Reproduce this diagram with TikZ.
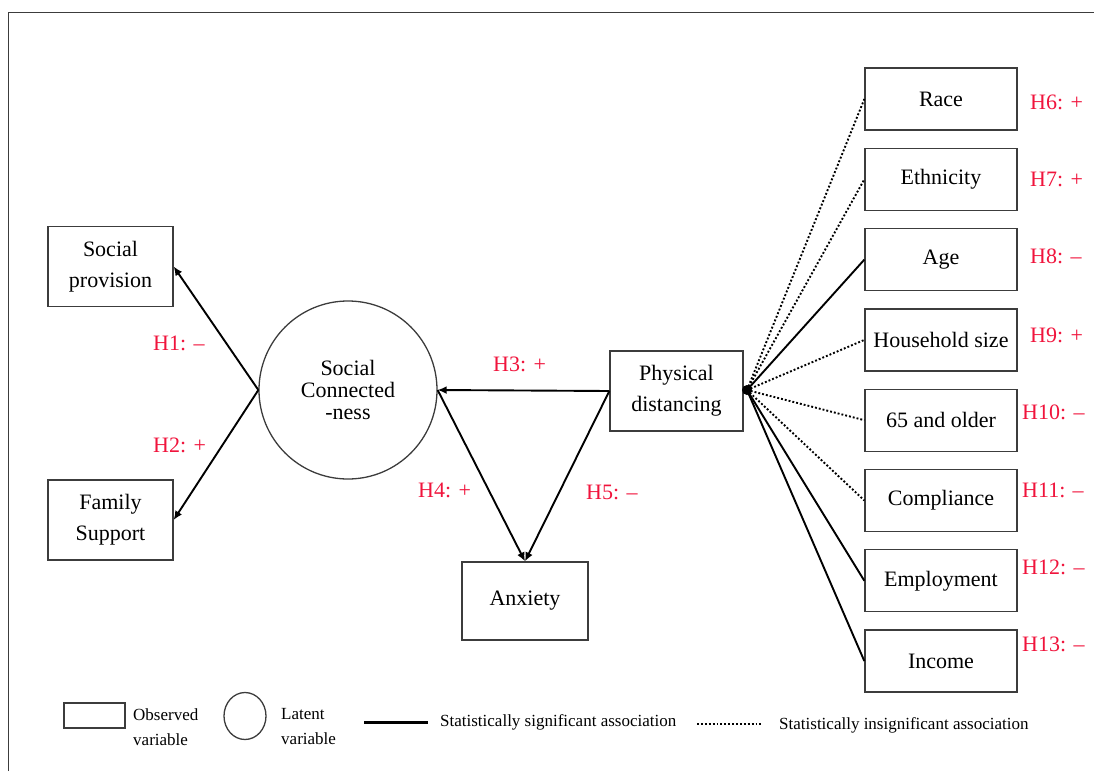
\documentclass[tikz,border=0pt]{standalone}
\usepackage{fontspec}
\setmainfont{Liberation Serif}
\usetikzlibrary{arrows.meta,shapes.geometric}
\definecolor{hypred}{RGB}{240,20,60}
\definecolor{boxgray}{RGB}{60,60,60}

\tikzset{
  varbox/.style={draw=boxgray, line width=1.3pt, rectangle, align=center,
    minimum width=125pt, minimum height=80pt, inner sep=2pt,
    font=\fontsize{22}{31}\selectfont},
  rightbox/.style={varbox, minimum width=152pt, minimum height=62pt},
  latent/.style={draw=boxgray, line width=1.3pt, circle, align=center,
    minimum size=178pt, inner sep=0pt, font=\fontsize{22}{22}\selectfont},
  hyp/.style={text=hypred, anchor=west, inner sep=0pt, font=\fontsize{22}{22}\selectfont},
  link/.style={line width=1.9pt},
  arr/.style={link, -{Latex[length=9pt,width=8pt]}},
  legtext/.style={anchor=west, align=left, inner sep=0pt, font=\fontsize{17}{25}\selectfont},
}

\begin{document}
\begin{tikzpicture}[x=1pt, y=-1pt]

  \useasboundingbox (0,0) rectangle (1094,771);
  \draw[boxgray, line width=1.6pt] (8.5,771) -- (8.5,12.5) -- (1094,12.5);

  % left part of the model
  \node[varbox] (sprov) at (110.5,266.5) {Social\\provision};
  \node[varbox] (fsup) at (110.5,520) {Family\\Support};
  \node[latent] (sconn) at (348,390) {Social\\Connected\\-ness};
  \node[varbox, minimum width=133pt] (pdist) at (676.5,391) {Physical\\distancing};
  \node[varbox, minimum width=126pt, minimum height=78pt] (anx) at (525,601) {Anxiety};

  \draw[arr] (sconn.west) -- (sprov.east);
  \draw[arr] (sconn.west) -- (fsup.east);
  \draw[arr] (pdist.west) -- (sconn.east);
  \draw[arr] (sconn.east) -- (anx.north);
  \draw[arr] (pdist.west) -- (anx.north);

  \node[hyp] (h1) at (153,343) {H1: --};
  \node[hyp] (h2) at (153,445) {H2: +};
  \node[hyp] (h3) at (493,364) {H3: +};
  \node[hyp] (h4) at (418,490) {H4: +};
  \node[hyp] (h5) at (586,492) {H5: --};

  % right part, the background variables
  \coordinate (hub) at (747,390);
  \fill (hub) circle (5pt);

  \foreach \n/\t/\y/\s in {race/Race/99/dotted, eth/Ethnicity/179.3/dotted,
      age/Age/259.6/solid, hh/Household size/339.9/dotted,
      old/65 and older/420.2/dotted, comp/Compliance/500.5/dotted,
      emp/Employment/580.8/solid, inc/Income/661.1/solid}{
    \node[rightbox] (\n) at (941,\y) {\t};
    \draw[link, \s] (hub) -- (\n.west);
  }

  \node[hyp] (h6) at (1030,102) {H6: +};
  \node[hyp] (h7) at (1030,179) {H7: +};
  \node[hyp] (h8) at (1030,256) {H8: --};
  \node[hyp] (h9) at (1030,335) {H9: +};
  \node[hyp] (h10) at (1022,412) {H10: --};
  \node[hyp] (h11) at (1022,490) {H11: --};
  \node[hyp] (h12) at (1022,567) {H12: --};
  \node[hyp] (h13) at (1022,644) {H13: --};

  % legend
  \node[draw=boxgray, line width=1.3pt, minimum width=61pt, minimum height=25pt, inner sep=0pt] (legobs) at (94.5,715.5) {};
  \node[legtext] (legobst) at (133,727) {Observed\\variable};
  \node[draw=boxgray, line width=1.3pt, ellipse, minimum width=42pt, minimum height=47pt, inner sep=0pt] (leglat) at (245,716) {};
  \node[legtext] (leglatt) at (281,727) {Latent\\variable};
  \coordinate (sig1) at (364,722);
  \coordinate (sig2) at (428,722);
  \draw[line width=3pt] (sig1) -- (sig2);
  \node[legtext] (legsig) at (440,722) {Statistically significant association};
  \coordinate (ins1) at (697,724);
  \coordinate (ins2) at (762,724);
  \draw[link, dotted] (ins1) -- (ins2);
  \node[legtext] (legins) at (779,725) {Statistically insignificant association};

\end{tikzpicture}
\end{document}
